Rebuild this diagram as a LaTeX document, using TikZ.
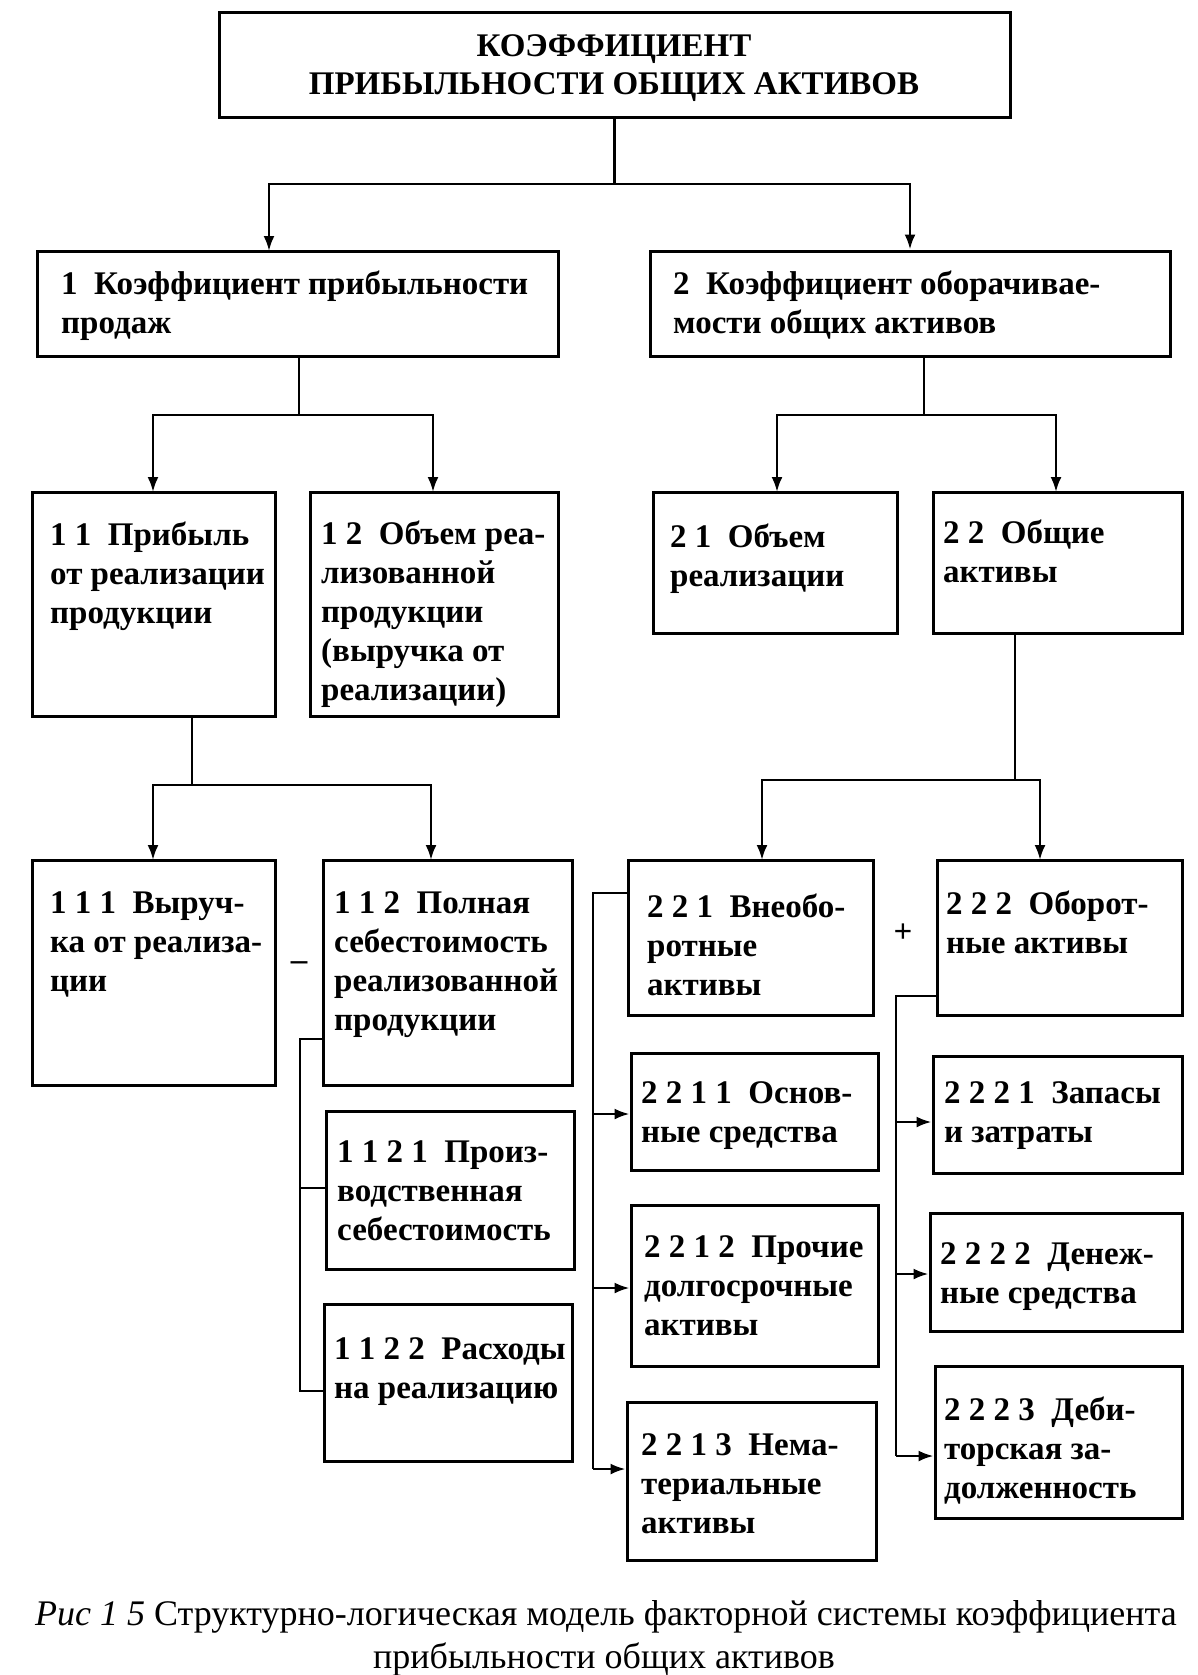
\documentclass[tikz,border=0pt]{standalone}
\usepackage{fontspec}
\setmainfont{Liberation Serif}
\usetikzlibrary{arrows.meta,fit}
\begin{document}
\begin{tikzpicture}[x=1pt,y=-1pt,
  box/.style={draw, line width=3pt, inner sep=0pt},
  txt/.style={anchor=north west, inner sep=0pt, align=left, font=\bfseries\fontsize{33}{39}\selectfont},
  conn/.style={line width=2.5pt},
  arr/.style={conn, -{Latex[length=15pt,width=11pt]}},
  sign/.style={inner sep=0pt, font=\bfseries\fontsize{33}{39}\selectfont}]
\fill[white] (0,0) rectangle (1198,1675);
\useasboundingbox (0,0) rectangle (1198,1675);

% boxes
\node[box, fit={(219,13) (1010,118)}] (top) {};
\node[inner sep=0pt, align=center, font=\bfseries\fontsize{33}{38}\selectfont] (toptext) at (614,68) {КОЭФФИЦИЕНТ\\ПРИБЫЛЬНОСТИ ОБЩИХ АКТИВОВ};

\node[box, fit={(37,251) (558,356)}] (b1) {};
\node[txt] (b1t) at (61,271) {1\enspace Коэффициент прибыльности\\продаж};
\node[box, fit={(650,251) (1170,356)}] (b2) {};
\node[txt] (b2t) at (673,271) {2\enspace Коэффициент оборачивае-\\мости общих активов};

\node[box, fit={(32,492) (275,716)}] (b11) {};
\node[txt] (b11t) at (50,522) {1 1\enspace Прибыль\\от реализации\\продукции};
\node[box, fit={(310,492) (558,716)}] (b12) {};
\node[txt] (b12t) at (321,521) {1 2\enspace Объем реа-\\лизованной\\продукции\\(выручка от\\реализации)};
\node[box, fit={(653,492) (897,633)}] (b21) {};
\node[txt] (b21t) at (670,524) {2 1\enspace Объем\\реализации};
\node[box, fit={(933,492) (1182,633)}] (b22) {};
\node[txt] (b22t) at (943,520) {2 2\enspace Общие\\активы};

\node[box, fit={(32,860) (275,1085)}] (b111) {};
\node[txt] (b111t) at (50,892) {1 1 1\enspace Выруч-\\ка от реализа-\\ции};
\node[box, fit={(323,860) (572,1085)}] (b112) {};
\node[txt] (b112t) at (334,891) {1 1 2\enspace Полная\\себестоимость\\реализованной\\продукции};
\node[box, fit={(326,1111) (574,1269)}] (b1121) {};
\node[txt] (b1121t) at (337,1140) {1 1 2 1\enspace Произ-\\водственная\\себестоимость};
\node[box, fit={(324,1304) (572,1461)}] (b1122) {};
\node[txt] (b1122t) at (334,1337) {1 1 2 2\enspace Расходы\\на реализацию};

\node[box, fit={(628,860) (873,1015)}] (b221) {};
\node[txt] (b221t) at (647,894) {2 2 1\enspace Внеобо-\\ротные\\активы};
\node[box, fit={(937,860) (1182,1015)}] (b222) {};
\node[txt] (b222t) at (946,891) {2 2 2\enspace Оборот-\\ные активы};

\node[box, fit={(631,1053) (878,1170)}] (b2211) {};
\node[txt] (b2211t) at (641,1081) {2 2 1 1\enspace Основ-\\ные средства};
\node[box, fit={(631,1205) (878,1366)}] (b2212) {};
\node[txt] (b2212t) at (644,1235) {2 2 1 2\enspace Прочие\\долгосрочные\\активы};
\node[box, fit={(627,1402) (876,1560)}] (b2213) {};
\node[txt] (b2213t) at (641,1433) {2 2 1 3\enspace Нема-\\териальные\\активы};

\node[box, fit={(933,1056) (1182,1173)}] (b2221) {};
\node[txt] (b2221t) at (944,1081) {2 2 2 1\enspace Запасы\\и затраты};
\node[box, fit={(930,1213) (1182,1331)}] (b2222) {};
\node[txt] (b2222t) at (940,1242) {2 2 2 2\enspace Денеж-\\ные средства};
\node[box, fit={(935,1366) (1182,1518)}] (b2223) {};
\node[txt] (b2223t) at (944,1397) {2 2 2 3\enspace Деби-\\торская за-\\долженность};

% signs
\node[sign] (minus) at (299,966) {–};
\node[sign] (plus) at (903,933) {+};

% connector helper coordinates
\coordinate (h0) at (0,184);
\coordinate (h1) at (0,415);
\coordinate (h2) at (0,785);
\coordinate (h3) at (0,780);
\coordinate (b1in) at (269,251);
\coordinate (b1out) at (299,356);
\coordinate (b2out) at (924,356);
\coordinate (b11in) at (153,492);
\coordinate (b12in) at (433,492);
\coordinate (b21in) at (777,492);
\coordinate (b22in) at (1056,492);
\coordinate (b11out) at (192,716);
\coordinate (b22out) at (1015,633);
\coordinate (b111in) at (153,860);
\coordinate (b112in) at (431,860);
\coordinate (b221in) at (762,860);
\coordinate (b222in) at (1040,860);
\coordinate (v1) at (300,0);
\coordinate (v2) at (593,0);
\coordinate (v3) at (896,0);
\coordinate (y112) at (0,1039);
\coordinate (y1121) at (0,1188);
\coordinate (y1122) at (0,1391);
\coordinate (y221) at (0,893);
\coordinate (y2211) at (0,1114);
\coordinate (y2212) at (0,1288);
\coordinate (y2213) at (0,1469);
\coordinate (y222) at (0,996);
\coordinate (y2221) at (0,1122);
\coordinate (y2222) at (0,1274);
\coordinate (y2223) at (0,1456);

% level 1
\draw[conn] (top.south) -- (top.south |- h0);
\draw[arr] (top.south |- h0) -| (b1in);
\draw[arr] (top.south |- h0) -| (b2.north);
% level 2
\draw[conn] (b1out) -- (b1out |- h1);
\draw[arr] (b1out |- h1) -| (b11in);
\draw[arr] (b1out |- h1) -| (b12in);
\draw[conn] (b2out) -- (b2out |- h1);
\draw[arr] (b2out |- h1) -| (b21in);
\draw[arr] (b2out |- h1) -| (b22in);
% level 3
\draw[conn] (b11out) -- (b11out |- h2);
\draw[arr] (b11out |- h2) -| (b111in);
\draw[arr] (b11out |- h2) -| (b112in);
\draw[conn] (b22out) -- (b22out |- h3);
\draw[arr] (b22out |- h3) -| (b221in);
\draw[arr] (b22out |- h3) -| (b222in);
% bracket 1.1.2
\draw[conn] (b112.west |- y112) -- (v1 |- y112) -- (v1 |- y1122) -- (b1122.west |- y1122);
\draw[conn] (v1 |- y1121) -- (b1121.west |- y1121);
% bracket 2.2.1
\draw[conn] (b221.west |- y221) -- (v2 |- y221) -- (v2 |- y2213);
\draw[arr] (v2 |- y2211) -- (b2211.west |- y2211);
\draw[arr] (v2 |- y2212) -- (b2212.west |- y2212);
\draw[arr] (v2 |- y2213) -- (b2213.west |- y2213);
% bracket 2.2.2
\draw[conn] (b222.west |- y222) -- (v3 |- y222) -- (v3 |- y2223);
\draw[arr] (v3 |- y2221) -- (b2221.west |- y2221);
\draw[arr] (v3 |- y2222) -- (b2222.west |- y2222);
\draw[arr] (v3 |- y2223) -- (b2223.west |- y2223);

% caption
\node[inner sep=0pt, font=\fontsize{36}{42}\selectfont] (cap1) at (606,1617) {\textit{Рис 1 5} Структурно-логическая модель факторной системы коэффициента};
\node[inner sep=0pt, font=\fontsize{36}{42}\selectfont] (cap2) at (604,1659) {прибыльности общих активов};
\end{tikzpicture}
\end{document}
